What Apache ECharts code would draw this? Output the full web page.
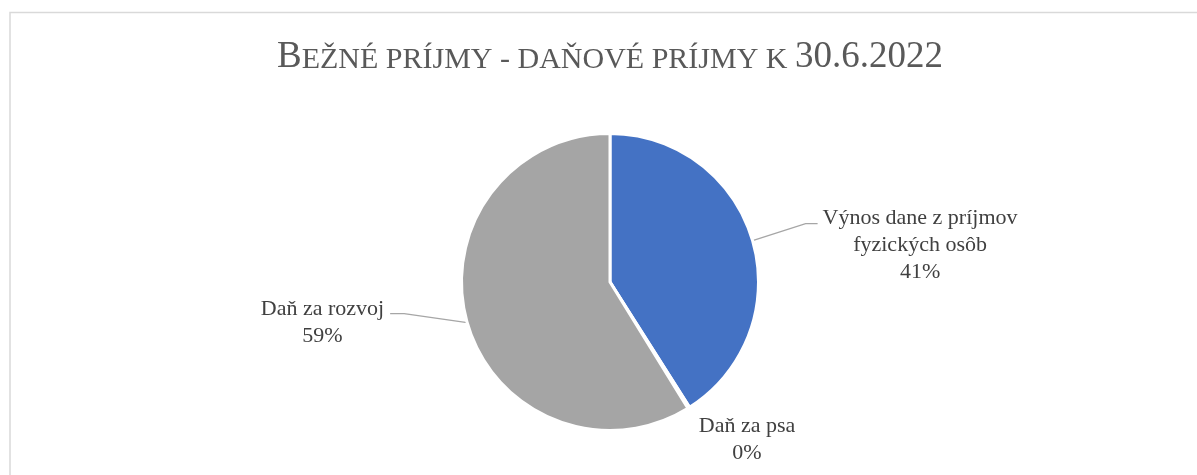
<!DOCTYPE html>
<html>
<head>
<meta charset="utf-8">
<title>Bežné príjmy - daňové príjmy k 30.6.2022</title>
<script src="https://cdn.jsdelivr.net/npm/echarts@6/dist/echarts.min.js"></script>
<style>
	html, body { margin: 0; padding: 0; background: #fff; overflow: hidden; }
	#pie_chart { width: 1220px; height: 475px; }
</style>
</head>
<body>
<div id="pie_chart"></div>
<script>
// Data
// ------------------------------
var titleText = 'Bežné príjmy - daňové príjmy k 30.6.2022';
var categories = ['Výnos dane z príjmov fyzických osôb', 'Daň za psa', 'Daň za rozvoj'];
var values = [41.0, 0.2, 58.8]; // % podiel
var colors = ['#4472C4', '#ED7D31', '#A5A5A5'];

var FONT = "'Liberation Serif', 'Times New Roman', serif";

// small caps -> rich text (velke pismena a cisla plnou velkostou)
function smallCaps(str) {
	var out = '', cur = null, buf = '';
	for (var i = 0; i < str.length; i++) {
		var ch = str[i];
		var kind = cur;
		if (ch.toUpperCase() !== ch.toLowerCase()) {
			kind = (ch === ch.toLowerCase()) ? 's' : 'b';
		} else if (/[0-9]/.test(ch)) {
			kind = 'b';
		}
		if (kind === null) kind = 'b';
		if (kind !== cur && buf) {
			out += '{' + cur + '|' + buf + '}';
			buf = '';
		}
		cur = kind;
		buf += ch.toUpperCase();
	}
	if (buf) out += '{' + cur + '|' + buf + '}';
	return out;
}

// zalomenie nazvu do riadkov
function wrap(name, maxChars) {
	var words = name.split(' '), lines = [], line = '';
	for (var i = 0; i < words.length; i++) {
		var test = line ? line + ' ' + words[i] : words[i];
		if (test.length > maxChars && line) {
			lines.push(line);
			line = words[i];
		} else {
			line = test;
		}
	}
	if (line) lines.push(line);
	return lines;
}

var chart = echarts.init(document.getElementById('pie_chart'), null, { renderer: 'canvas' });

var cx = 610, cy = 282;

var option = {
	animation: false,
	backgroundColor: '#fff',
	graphic: [{
		type: 'rect',
		silent: true,
		shape: { x: 10, y: 12.5, width: 1300, height: 700 },
		style: { fill: 'none', stroke: '#d9d9d9', lineWidth: 1.5 }
	}],
	title: {
		text: smallCaps(titleText),
		left: 'center',
		top: 38.5,
		padding: 0,
		textStyle: {
			fontWeight: 'normal',
			rich: {
				b: { fontFamily: FONT, fontSize: 37, fontWeight: 'normal', color: '#595959', lineHeight: 37, verticalAlign: 'bottom' },
				s: { fontFamily: FONT, fontSize: 30, fontWeight: 'normal', color: '#595959', lineHeight: 32.7, verticalAlign: 'bottom' }
			}
		}
	},
	series: [{
		type: 'pie',
		center: [cx, cy],
		radius: 148.5,
		startAngle: 90,
		clockwise: true,
		avoidLabelOverlap: false,
		itemStyle: { borderColor: '#fff', borderWidth: 3 },
		emphasis: { disabled: true },
		label: {
			show: true,
			position: 'outside',
			formatter: function (p) {
				var lines = wrap(p.name, 20).concat([Math.round(p.percent) + '%']);
				return lines.map(function (s) { return '{c|' + s + '}'; }).join('\n');
			},
			rich: {
				c: { fontFamily: FONT, fontSize: 22, color: '#404040', lineHeight: 27, align: 'center' }
			}
		},
		labelLine: {
			show: true,
			length: 50,
			length2: 12,
			lineStyle: { color: '#a6a6a6', width: 1.3 }
		},
		labelLayout: function (params) {
			var p = params.labelLinePoints;
			if (params.dataIndex === 0 && p) {
				var s = p[0];
				var e1 = [s[0] + 53, s[1] - 17];
				var e2 = [e1[0] + 12, e1[1]];
				return { x: e2[0] + 5, y: e2[1] - 19, align: 'left', verticalAlign: 'top', labelLinePoints: [s, e1, e2] };
			}
			if (params.dataIndex === 2 && p) {
				var s2 = p[0];
				var f1 = [s2[0] - 63, s2[1] - 9];
				var f2 = [f1[0] - 14, f1[1]];
				return { x: f2[0] - 6, y: f2[1] - 17.5, align: 'right', verticalAlign: 'top', labelLinePoints: [s2, f1, f2] };
			}
			return { x: cx + 137, y: cy + 131, align: 'center', verticalAlign: 'top' };
		},
		data: categories.map(function (name, i) {
			var item = { name: name, value: values[i], itemStyle: { color: colors[i] } };
			if (i === 1) item.labelLine = { show: false };
			return item;
		})
	}]
};

chart.setOption(option);

window.onresize = function () {
	setTimeout(function () {
		chart.resize();
	}, 200);
};
</script>
</body>
</html>
